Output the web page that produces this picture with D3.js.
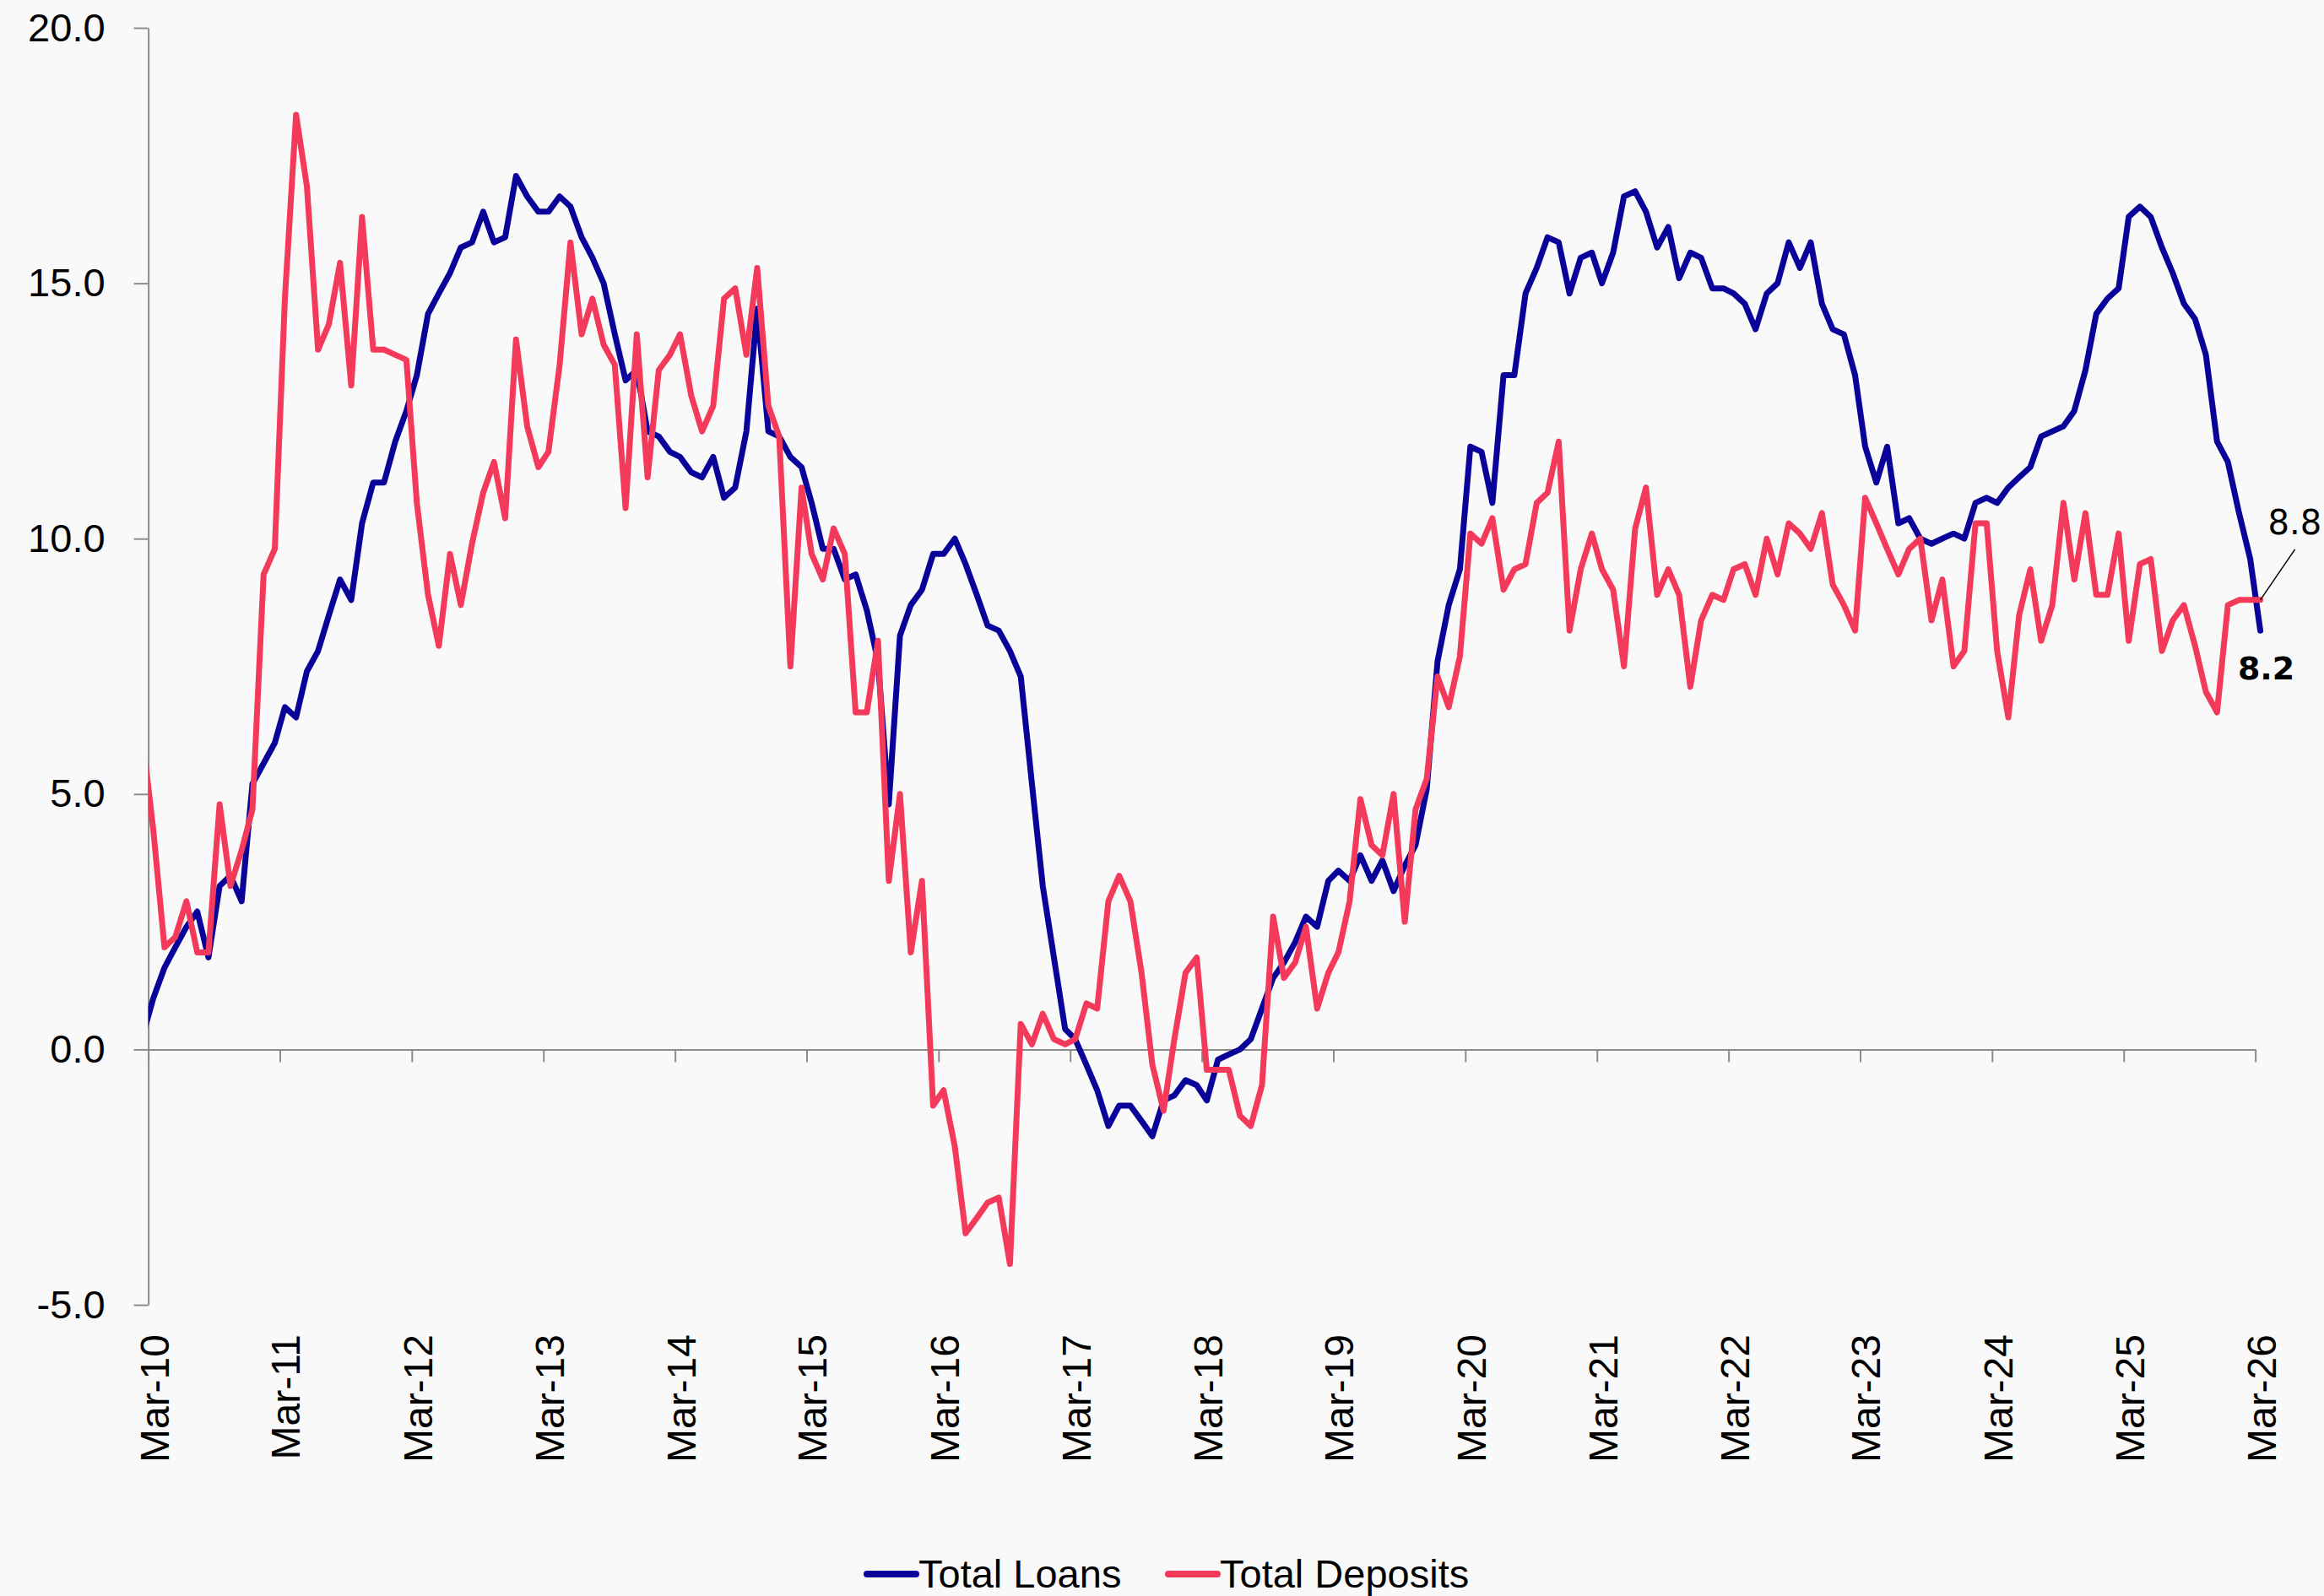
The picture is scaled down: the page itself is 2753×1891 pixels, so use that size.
<!DOCTYPE html>
<html lang="en">
<head>
    <meta charset="UTF-8">
    <title>Total Loans vs Total Deposits</title>
    <style>
        html,body{
            margin: 0;
            padding: 0;
            background: #f9f9f9;
        }
        #main{
            width: 2753px;
            height: 1891px;
        }
        text{
            font-family: "Liberation Sans", Arial, sans-serif;
            fill: #000;
        }
        .endLabel{
            font-family: "DejaVu Sans", Verdana, sans-serif;
        }
    </style>
</head>
<body>
<div id="main"></div>
<script src="https://d3js.org/d3.v7.min.js"></script>
<script>
    /*=========== data ===========*/
    // monthly y-o-y growth (%), first point Feb-10 (just left of the axis), last Mar-26
    const loans=[
        0.3, 1.0, 1.6, 2.0, 2.4, 2.7, 1.8, 3.2, 3.4, 2.9,
        5.2, 5.6, 6.0, 6.7, 6.5, 7.4, 7.8, 8.5, 9.2, 8.8,
        10.3, 11.1, 11.1, 11.9, 12.5, 13.2, 14.4, 14.8, 15.2, 15.7,
        15.8, 16.4, 15.8, 15.9, 17.1, 16.7, 16.4, 16.4, 16.7, 16.5,
        15.9, 15.5, 15.0, 14.0, 13.1, 13.3, 12.1, 12.0, 11.7, 11.6,
        11.3, 11.2, 11.6, 10.8, 11.0, 12.1, 14.5, 12.1, 12.0, 11.6,
        11.4, 10.7, 9.8, 9.8, 9.2, 9.3, 8.6, 7.6, 4.8, 8.1,
        8.7, 9.0, 9.7, 9.7, 10.0, 9.5, 8.9, 8.3, 8.2, 7.8,
        7.3, 5.2, 3.2, 1.8, 0.4, 0.2, -0.3, -0.8, -1.5, -1.1,
        -1.1, -1.4, -1.7, -1.0, -0.9, -0.6, -0.7, -1.0, -0.2, -0.1,
        0.0, 0.2, 0.8, 1.4, 1.7, 2.1, 2.6, 2.4, 3.3, 3.5,
        3.3, 3.8, 3.3, 3.7, 3.1, 3.6, 4.0, 5.1, 7.6, 8.7,
        9.4, 11.8, 11.7, 10.7, 13.2, 13.2, 14.8, 15.3, 15.9, 15.8,
        14.8, 15.5, 15.6, 15.0, 15.6, 16.7, 16.8, 16.4, 15.7, 16.1,
        15.1, 15.6, 15.5, 14.9, 14.9, 14.8, 14.6, 14.1, 14.8, 15.0,
        15.8, 15.3, 15.8, 14.6, 14.1, 14.0, 13.2, 11.8, 11.1, 11.8,
        10.3, 10.4, 10.0, 9.9, 10.0, 10.1, 10.0, 10.7, 10.8, 10.7,
        11.0, 11.2, 11.4, 12.0, 12.1, 12.2, 12.5, 13.3, 14.4, 14.7,
        14.9, 16.3, 16.5, 16.3, 15.7, 15.2, 14.6, 14.3, 13.6, 11.9,
        11.5, 10.5, 9.6, 8.2
    ]
    const deposits=[
        6.0, 4.3, 2.0, 2.2, 2.9, 1.9, 1.9, 4.8, 3.2, 3.9,
        4.7, 9.3, 9.8, 14.7, 18.3, 16.9, 13.7, 14.2, 15.4, 13.0,
        16.3, 13.7, 13.7, 13.6, 13.5, 10.7, 8.9, 7.9, 9.7, 8.7,
        9.9, 10.9, 11.5, 10.4, 13.9, 12.2, 11.4, 11.7, 13.4, 15.8,
        14.0, 14.7, 13.8, 13.4, 10.6, 14.0, 11.2, 13.3, 13.6, 14.0,
        12.8, 12.1, 12.6, 14.7, 14.9, 13.6, 15.3, 12.6, 12.0, 7.5,
        11.0, 9.7, 9.2, 10.2, 9.7, 6.6, 6.6, 8.0, 3.3, 5.0,
        1.9, 3.3, -1.1, -0.8, -1.9, -3.6, -3.3, -3.0, -2.9, -4.2,
        0.5, 0.1, 0.7, 0.2, 0.1, 0.2, 0.9, 0.8, 2.9, 3.4,
        2.9, 1.5, -0.3, -1.2, 0.2, 1.5, 1.8, -0.4, -0.4, -0.4,
        -1.3, -1.5, -0.7, 2.6, 1.4, 1.7, 2.4, 0.8, 1.5, 1.9,
        2.9, 4.9, 4.0, 3.8, 5.0, 2.5, 4.7, 5.3, 7.3, 6.7,
        7.7, 10.1, 9.9, 10.4, 9.0, 9.4, 9.5, 10.7, 10.9, 11.9,
        8.2, 9.4, 10.1, 9.4, 9.0, 7.5, 10.2, 11.0, 8.9, 9.4,
        8.9, 7.1, 8.4, 8.9, 8.8, 9.4, 9.5, 8.9, 10.0, 9.3,
        10.3, 10.1, 9.8, 10.5, 9.1, 8.7, 8.2, 10.8, 10.3, 9.8,
        9.3, 9.8, 10.0, 8.4, 9.2, 7.5, 7.8, 10.3, 10.3, 7.8,
        6.5, 8.5, 9.4, 8.0, 8.7, 10.7, 9.2, 10.5, 8.9, 8.9,
        10.1, 8.0, 9.5, 9.6, 7.8, 8.4, 8.7, 7.9, 7.0, 6.6,
        8.7, 8.8, 8.8, 8.8
    ]
    const seriesNames=['Total Loans','Total Deposits']
    const seriesColors=['#0a0399','#f43a5a']
    const yTicks=[-5,0,5,10,15,20]
    const xTickYears=d3.range(2010,2027)

    /*=========== container ===========*/
    const width=2753
    const height=1891
    const plotLeft=175.6, plotRight=2671.6, plotTop=33, plotBottom=1546

    const svg=d3.select('#main').append('svg')
        .attr('version',1.2)
        .attr('xmlns','http://www.w3.org/2000/svg')
        .attr('width',width)
        .attr('height',height)
        .attr('viewBox',`0 0 ${width} ${height}`)

    svg.append('rect')
        .attr('width',width)
        .attr('height',height)
        .attr('fill','#f9f9f9')

    /*=========== scales ===========*/
    // points sit mid-month, ticks on the 1st of March
    const months=loans.map((d,i)=>new Date(2010,1+i,15))
    const xTicks=xTickYears.map(yr=>new Date(yr,2,1))

    const xScale=d3.scaleTime()
        .domain([xTicks[0],xTicks[xTicks.length-1]])
        .range([plotLeft,plotRight])
    const yScale=d3.scaleLinear()
        .domain([yTicks[0],yTicks[yTicks.length-1]])
        .range([plotBottom,plotTop])

    /*=========== axes ===========*/
    const yAxis=svg.append('g')
        .attr('transform',`translate(${plotLeft} 0)`)
        .call(d3.axisLeft(yScale)
            .tickValues(yTicks)
            .tickSizeInner(17)
            .tickSizeOuter(0)
            .tickPadding(34)
            .tickFormat(d=>d.toFixed(1)))
    yAxis.selectAll('text').style('font-size','47px').attr('fill','#000')

    svg.append('g')
        .attr('transform',`translate(0 ${yScale(0)})`)
        .call(d3.axisBottom(xScale)
            .tickValues(xTicks)
            .tickSizeInner(15)
            .tickSizeOuter(0)
            .tickFormat(''))

    svg.selectAll('.domain, .tick line')
        .attr('stroke','#8c8c8c')
        .attr('stroke-width',2)

    // rotated month labels under the plot
    const fmt=d3.timeFormat('%b-%y')
    svg.append('g')
        .selectAll('text')
        .data(xTicks)
        .join('text')
        .attr('transform',d=>`translate(${xScale(d)} ${plotBottom+35}) rotate(-90)`)
        .attr('text-anchor','end')
        .attr('dy','0.5em')
        .style('font-size','48px')
        .text(d=>fmt(d))

    /*=========== lines ===========*/
    svg.append('clipPath')
        .attr('id','plotClip')
        .append('rect')
        .attr('x',plotLeft)
        .attr('y',0)
        .attr('width',width-plotLeft)
        .attr('height',height)

    const line=d3.line()
        .x((d,i)=>xScale(months[i]))
        .y(d=>yScale(d))

    const plot=svg.append('g').attr('clip-path','url(#plotClip)')
    ;[loans,deposits].forEach((s,i)=>{
        plot.append('path')
            .datum(s)
            .attr('fill','none')
            .attr('stroke',seriesColors[i])
            .attr('stroke-width',7)
            .attr('stroke-linejoin','round')
            .attr('stroke-linecap','round')
            .attr('d',line)
    })

    /*=========== end labels ===========*/
    const lastX=xScale(months[months.length-1])
    const lastLoan=loans[loans.length-1]
    const lastDep=deposits[deposits.length-1]

    svg.append('line')
        .attr('x1',lastX)
        .attr('y1',yScale(lastDep))
        .attr('x2',lastX+41)
        .attr('y2',yScale(lastDep)-60)
        .attr('stroke','#000')
        .attr('stroke-width',1.5)
    svg.append('text')
        .attr('class','endLabel')
        .attr('x',lastX+9)
        .attr('y',yScale(lastDep)-78)
        .style('font-size','40px')
        .text(lastDep.toFixed(1))

    svg.append('text')
        .attr('class','endLabel')
        .attr('x',lastX+7)
        .attr('y',yScale(lastLoan)+58)
        .attr('text-anchor','middle')
        .style('font-size','38px')
        .style('font-weight','bold')
        .text(lastLoan.toFixed(1))

    /*=========== legend ===========*/
    const legendX=[1027,1384]
    const legend=svg.append('g')
    seriesNames.forEach((name,i)=>{
        legend.append('line')
            .attr('x1',legendX[i])
            .attr('x2',legendX[i]+58)
            .attr('y1',1865)
            .attr('y2',1865)
            .attr('stroke',seriesColors[i])
            .attr('stroke-width',8)
            .attr('stroke-linecap','round')
        legend.append('text')
            .attr('x',legendX[i]+61)
            .attr('y',1881)
            .style('font-size','47px')
            .text(name)
    })
</script>
</body>
</html>
